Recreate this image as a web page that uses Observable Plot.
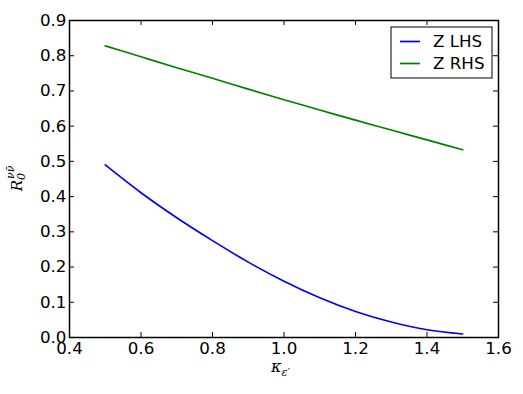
<!DOCTYPE html>
<html><head><meta charset="utf-8">
<script src="https://cdn.jsdelivr.net/npm/d3@7"></script>
<script src="https://cdn.jsdelivr.net/npm/@observablehq/plot@0.6"></script>
<style>body{margin:0;background:#fff} svg{display:block}</style>
</head><body><div id="chart"></div>
<script>
const kappa = [0.5, 0.6, 0.7, 0.8, 0.9, 1.0, 1.1, 1.2, 1.3, 1.4, 1.5];
const zLHS  = [0.490, 0.411, 0.340, 0.275, 0.214, 0.160, 0.113, 0.074, 0.044, 0.022, 0.010];
const zRHS  = [0.828, 0.797, 0.766, 0.736, 0.705, 0.675, 0.646, 0.617, 0.589, 0.561, 0.533];
const seriesNames = ["Z LHS", "Z RHS"];
const seriesColors = ["#0000ff", "#008000"];
const xTicks = [0.4, 0.6, 0.8, 1.0, 1.2, 1.4, 1.6];
const yTicks = [0.0, 0.1, 0.2, 0.3, 0.4, 0.5, 0.6, 0.7, 0.8, 0.9];

const W = 523, H = 394;
const mL = 69, mR = 25, mT = 20, mB = 57;
const pw = W - mL - mR, ph = H - mT - mB;
const tk = 5;

const lhs = kappa.map((k, i) => ({k, v: zLHS[i]}));
const rhs = kappa.map((k, i) => ({k, v: zRHS[i]}));

const plot = Plot.plot({
  width: W, height: H,
  marginLeft: mL, marginRight: mR, marginTop: mT, marginBottom: mB,
  style: {fontFamily: "DejaVu Sans", fontSize: "16.7px", background: "#fff", color: "#000"},
  x: {domain: [0.4, 1.6]},
  y: {domain: [0, 0.9]},
  marks: [
    Plot.axisX({ticks: xTicks, tickSize: 0, tickPadding: 5, tickFormat: d3.format(".1f"), label: null, fontSize: "16.7px"}),
    Plot.axisY({ticks: yTicks, tickSize: 0, tickPadding: 3, tickFormat: d3.format(".1f"), label: null, fontSize: "16.7px"}),
    // inward ticks on all four sides
    Plot.ruleX(xTicks, {x: d => d, insetTop: ph - tk, stroke: "#000", strokeWidth: 1}),
    Plot.ruleX(xTicks, {x: d => d, insetBottom: ph - tk, stroke: "#000", strokeWidth: 1}),
    Plot.ruleY(yTicks, {y: d => d, insetRight: pw - tk, stroke: "#000", strokeWidth: 1}),
    Plot.ruleY(yTicks, {y: d => d, insetLeft: pw - tk, stroke: "#000", strokeWidth: 1}),
    Plot.line(lhs, {x: "k", y: "v", stroke: seriesColors[0], strokeWidth: 1.7, curve: "monotone-x"}),
    Plot.line(rhs, {x: "k", y: "v", stroke: seriesColors[1], strokeWidth: 1.7, curve: "monotone-x"}),
    Plot.frame({stroke: "#000", strokeWidth: 1.5})
  ]
});
document.getElementById("chart").appendChild(plot);

const svg = d3.select(plot);
// x label: kappa_{epsilon'}
const xl = svg.append("text")
  .attr("x", mL + pw / 2 - 3).attr("y", 372)
  .attr("text-anchor", "middle")
  .style("font-family", "DejaVu Serif").style("font-style", "italic").style("font-size", "16px");
xl.append("tspan").text("κ");
xl.append("tspan").attr("dy", 4).style("font-size", "11px").text("ε′");

// y label: R_0^{nu nu-bar}
const yl = svg.append("text")
  .attr("transform", `translate(22,${mT + ph / 2}) rotate(-90)`)
  .attr("text-anchor", "middle")
  .style("font-family", "DejaVu Serif").style("font-style", "italic").style("font-size", "15px");
yl.append("tspan").text("R");
yl.append("tspan").attr("dy", 3).style("font-size", "11px").text("0");
yl.append("tspan").attr("dx", -6).attr("dy", -11).style("font-size", "11px").text("νν̄");

// legend
const lg = svg.append("g").attr("transform", `translate(${W - mR - 107},${mT + 7})`);
lg.append("rect").attr("width", 101).attr("height", 51).attr("fill", "#fff").attr("stroke", "#000").attr("stroke-width", 1);
seriesNames.forEach((name, i) => {
  const y = 14.5 + i * 22;
  lg.append("line").attr("x1", 9).attr("x2", 29).attr("y1", y).attr("y2", y)
    .attr("stroke", seriesColors[i]).attr("stroke-width", 1.7);
  lg.append("text").attr("x", 42).attr("y", y).attr("dy", "0.35em")
    .attr("text-anchor", "start")
    .style("font-family", "DejaVu Sans").style("font-size", "16.7px").text(name);
});
</script>
</body></html>
